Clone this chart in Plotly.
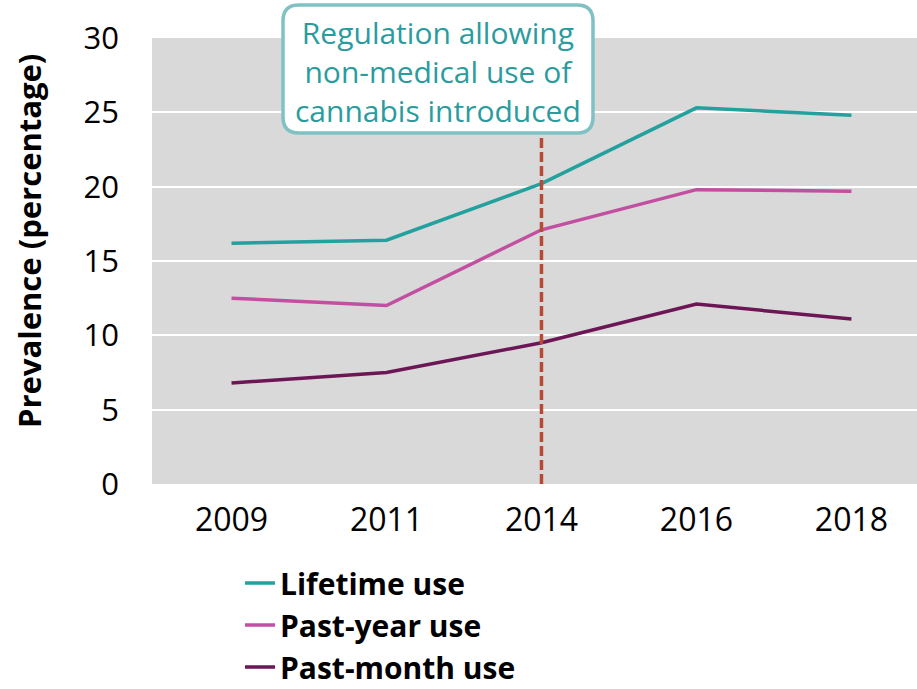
import plotly.graph_objs as go

years = ["2009", "2011", "2014", "2016", "2018"]
lifetime = [16.2, 16.4, 20.2, 25.3, 24.8]
past_year = [12.5, 12.0, 17.1, 19.8, 19.7]
past_month = [6.8, 7.5, 9.5, 12.1, 11.1]

series = [
    ("Lifetime use", lifetime, "#22A19F"),
    ("Past-year use", past_year, "#C24FA1"),
    ("Past-month use", past_month, "#6C1656"),
]

note_lines = ["Regulation allowing", "non-medical use of", "cannabis introduced"]
note_year = "2014"

W, H = 917, 689
L, R, T, B = 152, 0, 38, 205
pw, ph = W - L - R, H - T - B


def px(x):
    # pixel -> paper x
    return (x - L) / pw


def py(y):
    # pixel -> paper y
    return (H - B - y) / ph


fig = go.Figure()
for i, (name, vals, col) in enumerate(series):
    fig.add_trace(go.Scatter(x=years, y=vals, name=name, mode="lines",
                             line=dict(color=col, width=3.5),
                             legendgroup="g%d" % i))

# dashed marker at 2014 (category index, strings of digits get read as numbers)
xi = years.index(note_year)
fig.add_shape(type="line", xref="x", yref="y", x0=xi, x1=xi,
              y0=0, y1=23.4, line=dict(color="#B84A35", width=3.5, dash="10px,4px"))

# rounded box for the note
x0, x1, y0, y1, r = 283, 593, 5, 133, 16
path = ("M {a},{b} L {c},{b} Q {d},{b} {d},{e} L {d},{f} Q {d},{g} {c},{g} "
        "L {a},{g} Q {h},{g} {h},{f} L {h},{e} Q {h},{b} {a},{b} Z").format(
    a=px(x0 + r), b=py(y0), c=px(x1 - r), d=px(x1), e=py(y0 + r),
    f=py(y1 - r), g=py(y1), h=px(x0))
fig.add_shape(type="path", xref="paper", yref="paper", path=path,
              fillcolor="white", line=dict(color="#80C1C4", width=3.5), layer="above")
fig.add_annotation(xref="paper", yref="paper", x=px(438), y=py(71),
                   xanchor="center", yanchor="middle", text="<br>".join(note_lines),
                   showarrow=False, font=dict(size=30, color="#2A9C9E"))

# y title sits a bit above the plot centre in the original
fig.add_annotation(xref="paper", yref="paper", x=px(29), y=py(241),
                   xanchor="center", yanchor="middle", textangle=-90,
                   text="Prevalence (percentage)", showarrow=False,
                   font=dict(size=31, color="black", weight="bold"))

fig.update_layout(
    width=W, height=H,
    margin=dict(l=L, r=R, t=T, b=B, autoexpand=False),
    paper_bgcolor="white", plot_bgcolor="#D9D9D9",
    font=dict(family="'Open Sans', sans-serif", color="black", size=30),
    showlegend=True,
    legend=dict(x=px(240), y=py(557), xanchor="left", yanchor="top",
                font=dict(size=30, color="black", weight="bold"),
                tracegroupgap=0, bgcolor="rgba(0,0,0,0)"),
)
fig.update_xaxes(type="category", range=[-0.513, 4.423], showgrid=False,
                 tickfont=dict(size=32), ticks="", ticklabelstandoff=14)
fig.update_yaxes(range=[0, 30], dtick=5, gridcolor="white", gridwidth=2,
                 zeroline=False, tickfont=dict(size=31), ticklabelstandoff=32)

# drop the default 8px body margin so the figure fills the window
fig.write_html("out.html", config={"displayModeBar": False},
               post_script="document.body.style.margin='0';")
